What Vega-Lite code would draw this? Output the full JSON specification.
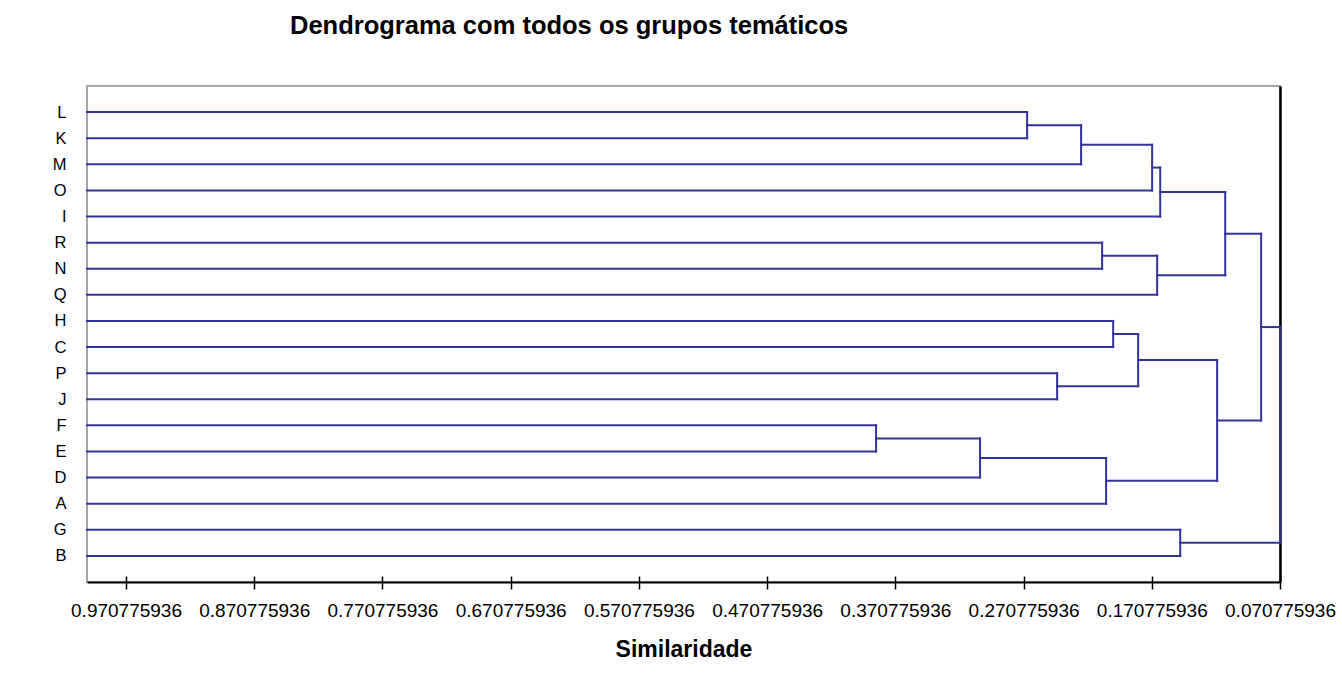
{
  "$schema": "https://vega.github.io/schema/vega-lite/v6.json",
  "autosize": "none",
  "width": 1193,
  "height": 496,
  "padding": {"left": 87, "top": 86, "right": 62, "bottom": 93},
  "background": "white",
  "config": {
    "view": {"stroke": "#a6a6a6", "strokeWidth": 2},
    "font": "Liberation Sans"
  },
  "title": {
    "text": "Dendrograma com todos os grupos temáticos",
    "anchor": "start",
    "frame": "group",
    "dx": 203,
    "offset": 47,
    "font": "Liberation Sans",
    "fontSize": 25.5,
    "fontWeight": "bold",
    "color": "black"
  },
  "data": {
    "values": [
      {"seg": "L", "x": 1.0012, "x2": 0.2680, "y": 1, "y2": 1},
      {"seg": "K", "x": 1.0012, "x2": 0.2680, "y": 2, "y2": 2},
      {"seg": "M", "x": 1.0012, "x2": 0.2259, "y": 3, "y2": 3},
      {"seg": "O", "x": 1.0012, "x2": 0.1705, "y": 4, "y2": 4},
      {"seg": "I", "x": 1.0012, "x2": 0.1642, "y": 5, "y2": 5},
      {"seg": "R", "x": 1.0012, "x2": 0.2095, "y": 6, "y2": 6},
      {"seg": "N", "x": 1.0012, "x2": 0.2095, "y": 7, "y2": 7},
      {"seg": "Q", "x": 1.0012, "x2": 0.1666, "y": 8, "y2": 8},
      {"seg": "H", "x": 1.0012, "x2": 0.2009, "y": 9, "y2": 9},
      {"seg": "C", "x": 1.0012, "x2": 0.2009, "y": 10, "y2": 10},
      {"seg": "P", "x": 1.0012, "x2": 0.2446, "y": 11, "y2": 11},
      {"seg": "J", "x": 1.0012, "x2": 0.2446, "y": 12, "y2": 12},
      {"seg": "F", "x": 1.0012, "x2": 0.3858, "y": 13, "y2": 13},
      {"seg": "E", "x": 1.0012, "x2": 0.3858, "y": 14, "y2": 14},
      {"seg": "D", "x": 1.0012, "x2": 0.3047, "y": 15, "y2": 15},
      {"seg": "A", "x": 1.0012, "x2": 0.2064, "y": 16, "y2": 16},
      {"seg": "G", "x": 1.0012, "x2": 0.1486, "y": 17, "y2": 17},
      {"seg": "B", "x": 1.0012, "x2": 0.1486, "y": 18, "y2": 18},
      {"seg": "LK|", "x": 0.2680, "x2": 0.2680, "y": 1, "y2": 2},
      {"seg": "LKM|", "x": 0.2259, "x2": 0.2259, "y": 1.5, "y2": 3},
      {"seg": "LKMO|", "x": 0.1705, "x2": 0.1705, "y": 2.25, "y2": 4},
      {"seg": "LKMOI|", "x": 0.1642, "x2": 0.1642, "y": 3.125, "y2": 5},
      {"seg": "RN|", "x": 0.2095, "x2": 0.2095, "y": 6, "y2": 7},
      {"seg": "RNQ|", "x": 0.1666, "x2": 0.1666, "y": 6.5, "y2": 8},
      {"seg": "TOP1|", "x": 0.1135, "x2": 0.1135, "y": 4.0625, "y2": 7.25},
      {"seg": "HC|", "x": 0.2009, "x2": 0.2009, "y": 9, "y2": 10},
      {"seg": "PJ|", "x": 0.2446, "x2": 0.2446, "y": 11, "y2": 12},
      {"seg": "HCPJ|", "x": 0.1814, "x2": 0.1814, "y": 9.5, "y2": 11.5},
      {"seg": "FE|", "x": 0.3858, "x2": 0.3858, "y": 13, "y2": 14},
      {"seg": "FED|", "x": 0.3047, "x2": 0.3047, "y": 13.5, "y2": 15},
      {"seg": "FEDA|", "x": 0.2064, "x2": 0.2064, "y": 14.25, "y2": 16},
      {"seg": "TOP2|", "x": 0.1198, "x2": 0.1198, "y": 10.5, "y2": 15.125},
      {"seg": "BIG|", "x": 0.0855, "x2": 0.0855, "y": 5.65625, "y2": 12.8125},
      {"seg": "GB|", "x": 0.1486, "x2": 0.1486, "y": 17, "y2": 18},
      {"seg": "ROOT|", "x": 0.070775936, "x2": 0.070775936, "y": 9.234375, "y2": 17.5},
      {"seg": "LK-", "x": 0.2680, "x2": 0.2259, "y": 1.5, "y2": 1.5},
      {"seg": "LKM-", "x": 0.2259, "x2": 0.1705, "y": 2.25, "y2": 2.25},
      {"seg": "LKMO-", "x": 0.1705, "x2": 0.1642, "y": 3.125, "y2": 3.125},
      {"seg": "LKMOI-", "x": 0.1642, "x2": 0.1135, "y": 4.0625, "y2": 4.0625},
      {"seg": "RN-", "x": 0.2095, "x2": 0.1666, "y": 6.5, "y2": 6.5},
      {"seg": "RNQ-", "x": 0.1666, "x2": 0.1135, "y": 7.25, "y2": 7.25},
      {"seg": "TOP1-", "x": 0.1135, "x2": 0.0855, "y": 5.65625, "y2": 5.65625},
      {"seg": "HC-", "x": 0.2009, "x2": 0.1814, "y": 9.5, "y2": 9.5},
      {"seg": "PJ-", "x": 0.2446, "x2": 0.1814, "y": 11.5, "y2": 11.5},
      {"seg": "HCPJ-", "x": 0.1814, "x2": 0.1198, "y": 10.5, "y2": 10.5},
      {"seg": "FE-", "x": 0.3858, "x2": 0.3047, "y": 13.5, "y2": 13.5},
      {"seg": "FED-", "x": 0.3047, "x2": 0.2064, "y": 14.25, "y2": 14.25},
      {"seg": "FEDA-", "x": 0.2064, "x2": 0.1198, "y": 15.125, "y2": 15.125},
      {"seg": "TOP2-", "x": 0.1198, "x2": 0.0855, "y": 12.8125, "y2": 12.8125},
      {"seg": "BIG-", "x": 0.0855, "x2": 0.070775936, "y": 9.234375, "y2": 9.234375},
      {"seg": "GB-", "x": 0.1486, "x2": 0.070775936, "y": 17.5, "y2": 17.5}
    ]
  },
  "layer": [
    {
      "mark": {"type": "rule", "color": "#333399", "strokeWidth": 2, "strokeCap": "square"},
      "encoding": {
        "x": {
          "field": "x", "type": "quantitative",
          "scale": {"domain": [0.070775936, 1.0012], "reverse": true, "nice": false, "zero": false},
          "axis": {
            "orient": "bottom",
            "values": [0.970775936, 0.870775936, 0.770775936, 0.670775936, 0.570775936, 0.470775936, 0.370775936, 0.270775936, 0.170775936, 0.070775936],
            "format": ".9f",
            "grid": false,
            "domainColor": "black", "domainWidth": 2,
            "tickColor": "black", "tickWidth": 1.5, "tickSize": 7,
            "labelFont": "Liberation Sans", "labelFontSize": 19, "labelColor": "black",
            "labelPadding": 12, "labelOverlap": false, "labelFlush": false,
            "title": "Similaridade",
            "titleFont": "Liberation Sans", "titleFontSize": 23, "titleFontWeight": "bold",
            "titleColor": "black", "titlePadding": 18
          }
        },
        "x2": {"field": "x2"},
        "y": {
          "field": "y", "type": "quantitative",
          "scale": {"domain": [0, 19], "reverse": true, "nice": false, "zero": false},
          "axis": {
            "orient": "left",
            "values": [1, 2, 3, 4, 5, 6, 7, 8, 9, 10, 11, 12, 13, 14, 15, 16, 17, 18],
            "labelExpr": "['','L','K','M','O','I','R','N','Q','H','C','P','J','F','E','D','A','G','B'][datum.value]",
            "grid": false, "ticks": false, "domain": false,
            "labelFont": "Liberation Sans", "labelFontSize": 16.5, "labelColor": "black",
            "labelPadding": 21, "title": null
          }
        },
        "y2": {"field": "y2"}
      }
    },
    {
      "mark": {"type": "rule", "strokeOpacity": 0},
      "encoding": {
        "x": {
          "field": "x", "type": "quantitative",
          "axis": {
            "orient": "bottom",
            "values": [0.970775936, 0.870775936, 0.770775936, 0.670775936, 0.570775936, 0.470775936, 0.370775936, 0.270775936, 0.170775936, 0.070775936],
            "grid": false, "labels": false, "domain": false,
            "tickColor": "black", "tickWidth": 1.5, "tickSize": -6,
            "title": null
          }
        },
        "y": {
          "field": "y", "type": "quantitative",
          "axis": {
            "orient": "right",
            "grid": false, "labels": false, "ticks": false,
            "domainColor": "black", "domainWidth": 2.5,
            "title": null
          }
        }
      }
    }
  ],
  "resolve": {"axis": {"x": "independent", "y": "independent"}}
}
